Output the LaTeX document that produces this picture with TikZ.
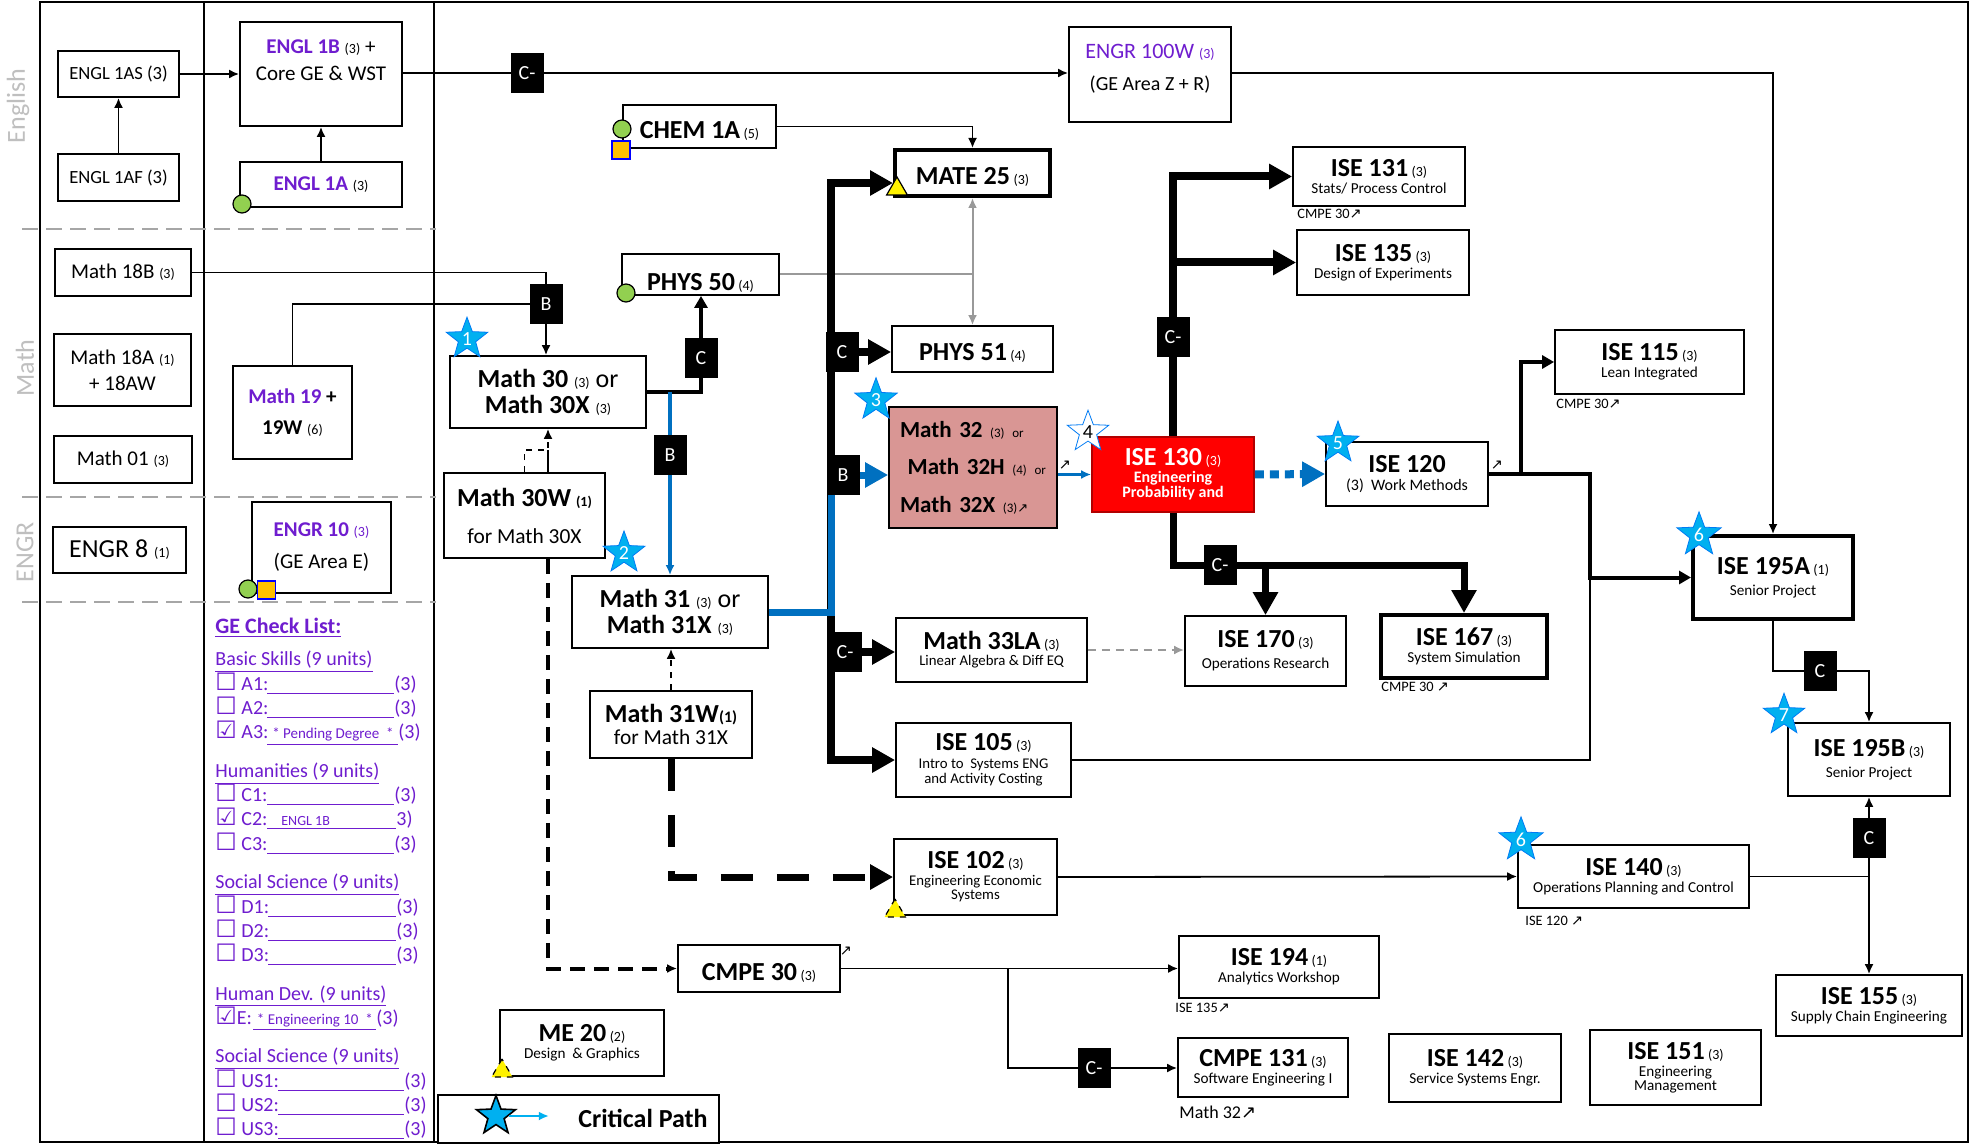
\documentclass[tikz,border=0pt]{standalone}
\usepackage{fontspec}
\setmainfont{Carlito}
\newfontfamily\symf{DejaVu Sans}
\usetikzlibrary{arrows.meta,positioning,shapes.geometric,calc}
\definecolor{gepurple}{HTML}{6F1DCF}
\definecolor{lanegray}{HTML}{A6A6A6}
\definecolor{labelgray}{HTML}{BFBFBF}
\definecolor{pathblue}{HTML}{0070C0}
\definecolor{starblue}{HTML}{00B0F0}
\definecolor{dotgreen}{HTML}{92D050}
\definecolor{sqorange}{HTML}{FFC000}
\definecolor{mathrose}{HTML}{D99694}
\definecolor{critred}{HTML}{FF0000}
\newcommand{\hrs}[1]{{\fontsize{7}{8}\selectfont\mdseries(#1)}}
\newcommand{\ttl}[1]{{\fontsize{13}{13}\selectfont\bfseries #1}}
\newcommand{\nearr}{{\symf ↗}}
\newcommand{\cbox}{{\symf\fontsize{12}{12}\selectfont ☐}}
\newcommand{\cchk}{{\symf\fontsize{12}{12}\selectfont ☑}}
\newcommand{\blankln}[1]{\rule[-1.8pt]{#1}{0.5pt}}

\begin{document}
\begin{tikzpicture}[x=0.5pt,y=-0.5pt,
    box/.style={draw,line width=0.9pt,fill=white,inner sep=0pt,align=center,
      font=\fontsize{7.6}{8.6}\selectfont},
    sz/.style 2 args={minimum width=#1*0.5pt,minimum height=#2*0.5pt},
    heavy/.style={line width=2pt},
    lowtext/.style={text height=14pt,text depth=2pt},
    gate/.style={fill=black,text=white,inner sep=0pt,minimum width=16.5pt,
      minimum height=20pt,font=\fontsize{10}{10}\selectfont},
    lane/.style={lanegray,line width=1.2pt,dash pattern=on 8pt off 4pt},
    con/.style={line width=0.9pt},
    arr/.style={-{Latex[length=5pt,width=4.5pt]}},
    bigarr/.style={-{Triangle[length=11.5pt,width=12pt]}},
    midarr/.style={-{Triangle[length=6pt,width=6.5pt]}},
    trunk/.style={line width=4pt},
    thk7/.style={line width=3.5pt},
    thk2/.style={line width=2pt},
    blu2/.style={pathblue,line width=1.6pt},
    blu7/.style={pathblue,line width=3.5pt},
    bludot/.style={pathblue,line width=4pt,dash pattern=on 4.5pt off 3pt},
    glin/.style={gray!80,line width=1pt},
    gdash/.style={gray!80,line width=1pt,dash pattern=on 4pt off 3pt},
    dash4/.style={line width=2pt,dash pattern=on 7.5pt off 4.5pt},
    dash7/.style={line width=3.5pt,dash pattern=on 16pt off 12pt},
    numstar/.style={star,star points=5,star point ratio=2.4,minimum size=20.5pt,
      inner sep=0pt,fill=starblue,draw=starblue!70!blue,line width=0.4pt,
      text=white,font=\fontsize{10}{10}\selectfont},
    gdot/.style={circle,fill=dotgreen,draw=black,line width=0.6pt,minimum size=9pt,inner sep=0pt},
    osq/.style={rectangle,fill=sqorange,draw=blue,line width=0.8pt,minimum size=9pt,inner sep=0pt},
    ytri/.style={regular polygon,regular polygon sides=3,fill=yellow,draw=black,
      line width=0.6pt,minimum size=12pt,inner sep=0pt},
    note/.style={inner sep=0pt,font=\fontsize{7.2}{8}\selectfont},
    lanelbl/.style={rotate=90,text=labelgray,font=\fontsize{13}{13}\selectfont}]

\path[fill=white,use as bounding box] (0,0) rectangle (1970,1144);

% frame and lanes
\draw[line width=1.2pt] (40,2) rectangle (1968,1142);
\draw[line width=1.2pt] (204,2) -- (204,1142);
\draw[line width=1.2pt] (434,2) -- (434,1142);
\draw[lane] (22,229) -- (436,229);
\draw[lane] (22,497) -- (436,497);
\draw[lane] (22,602) -- (436,602);
\node[lanelbl] (lblEng) at (18,106) {English};
\node[lanelbl] (lblMath) at (25,368) {Math};
\node[lanelbl] (lblEngr) at (25,552) {ENGR};

% courses
\node[box,sz={121}{46},font=\fontsize{9.3}{10}\selectfont] (engAS) at (118.5,74) {ENGL 1AS (3)};
\node[box,sz={121}{47},font=\fontsize{9.3}{10}\selectfont] (engAF) at (118.5,177.5) {ENGL 1AF (3)};
\node[box,sz={162}{104}] (engB) at (321,74) {};
\node[align=center,inner sep=0pt,font=\fontsize{10.5}{13.5}\selectfont] (engBtxt) at (321,60)
  {{\bfseries\color{gepurple}ENGL 1B} \hrs{3} +\\Core GE \& WST};
\node[box,sz={162}{45},font=\fontsize{10.5}{12}\selectfont] (engA) at (321,184.5)
  {{\bfseries\color{gepurple}ENGL 1A} \hrs{3}};
\node[box,sz={136}{47},font=\fontsize{10.5}{12}\selectfont] (m18B) at (123,272.5) {Math 18B \hrs{3}};
\node[box,sz={137}{72},font=\fontsize{10.5}{13}\selectfont] (m18A) at (122.5,370) {Math 18A \hrs{1}\\+ 18AW};
\node[box,sz={138}{47},font=\fontsize{10.5}{12}\selectfont] (m01) at (123,459.5) {Math 01 \hrs{3}};
\node[box,sz={133}{46},font=\fontsize{13}{14}\selectfont] (engr8) at (119.5,550) {ENGR 8 \hrs{1}};
\node[box,sz={119}{93},font=\fontsize{10.5}{15.5}\selectfont\bfseries] (m19) at (292.5,412.5)
  {{\color{gepurple}Math 19} +\\19W \hrs{6}};
\node[box,sz={139}{91},font=\fontsize{10.5}{16}\selectfont] (engr10) at (321.5,547.5)
  {{\color{gepurple}\bfseries ENGR 10 \hrs{3}}\\(GE Area E)};
\node[box,sz={162}{95}] (engr100) at (1150,74.5) {};
\node[align=center,inner sep=0pt,font=\fontsize{10}{16}\selectfont] (engr100txt) at (1150,69)
  {{\color{gepurple}\fontsize{11}{12}\selectfont ENGR 100W \hrs{3}}\\(GE Area Z + R)};
\node[box,lowtext,sz={153}{43}] (chem) at (699.5,126.5) {\ttl{CHEM 1A} \hrs{5}};
\node[box,lowtext,heavy,sz={155}{46}] (mate) at (972.5,173) {\ttl{MATE 25} \hrs{3}};
\node[box,sz={157}{41},text height=18pt,text depth=2pt] (phys50) at (700.5,274.5) {\ttl{PHYS 50} \hrs{4}};
\node[box,lowtext,sz={161}{46}] (phys51) at (972.5,349) {\ttl{PHYS 51} \hrs{4}};
\node[box,sz={196}{72},font=\fontsize{13}{13}\selectfont] (m30) at (548,392)
  {\ttl{Math 30} \hrs{3} or\\\ttl{Math 30X} \hrs{3}};
\node[box,sz={161}{85},font=\fontsize{10.7}{18.5}\selectfont] (m30W) at (524.5,515.5)
  {\ttl{Math 30W} {\fontsize{7}{8}\selectfont\bfseries(1)}\\for Math 30X};
\node[box,sz={196}{72},font=\fontsize{13}{13}\selectfont] (m31) at (670,612)
  {\ttl{Math 31} \hrs{3} or\\\ttl{Math 31X} \hrs{3}};
\node[box,sz={162}{67},font=\fontsize{10.7}{11}\selectfont] (m31W) at (671,724.5)
  {\ttl{Math 31W}{\fontsize{8}{8}\selectfont\bfseries(1)}\\for Math 31X};
\node[box,sz={168}{121},fill=mathrose,align=left,text width=73pt,
  font=\fontsize{11.5}{18.7}\selectfont\bfseries] (m32) at (973,467.5)
  {Math 32 {\fontsize{6.5}{7}\selectfont\mdseries(3) or}\\
   \ Math 32H {\fontsize{6.5}{7}\selectfont\mdseries(4) or}\\
   Math 32X {\fontsize{6.5}{7}\selectfont\mdseries(3)\nearr}};
\node[box,sz={191}{64},font=\fontsize{7.4}{8}\selectfont] (m33) at (991.5,650)
  {\ttl{Math 33LA} \hrs{3}\\Linear Algebra \& Diff EQ};
\node[box,sz={175}{74},font=\fontsize{7.4}{9}\selectfont] (ise105) at (983.5,760)
  {\ttl{ISE 105} \hrs{3}\\Intro to\ \ Systems ENG\\[-1.5pt]and Activity Costing};
\node[box,sz={163}{76},font=\fontsize{7.4}{8.2}\selectfont] (ise102) at (975.5,877)
  {\ttl{ISE 102} \hrs{3}\\Engineering Economic\\[-1pt]Systems};
\node[box,lowtext,sz={162}{47}] (cmpe30) at (759,968.5) {\ttl{CMPE 30} \hrs{3}};
\node[box,sz={164}{66}] (me20) at (582,1043) {\ttl{ME 20} \hrs{2}\\Design\ \ \& Graphics};
\node[box,sz={162}{75},fill=critred,draw=red!70!black,text=white,
  font=\fontsize{8}{8.4}\selectfont\bfseries] (ise130) at (1173,474.5)
  {\ttl{ISE 130} \hrs{3}\\Engineering\\[-1pt]Probability and};
\node[box,sz={162}{64},font=\fontsize{8}{8.6}\selectfont] (ise120) at (1407,474)
  {\ttl{ISE 120}\\(3)\ \ Work Methods};
\node[box,sz={172}{59}] (ise131) at (1379,176.5) {\ttl{ISE 131} \hrs{3}\\Stats/ Process Control};
\node[box,sz={172}{65}] (ise135) at (1383,262.5) {\ttl{ISE 135} \hrs{3}\\Design of Experiments};
\node[box,sz={161}{70}] (ise170) at (1265.5,651) {\ttl{ISE 170} \hrs{3}\\[2pt]Operations Research};
\node[box,heavy,sz={166}{63}] (ise167) at (1464,646.5) {\ttl{ISE 167} \hrs{3}\\System Simulation};
\node[box,sz={189}{64}] (ise115) at (1649.5,362) {\ttl{ISE 115} \hrs{3}\\Lean Integrated};
\node[box,heavy,sz={160}{83}] (ise195A) at (1773,577.5) {\ttl{ISE 195A} \hrs{1}\\[2pt]Senior Project};
\node[box,sz={162}{73}] (ise195B) at (1869,759.5) {\ttl{ISE 195B} \hrs{3}\\[2pt]Senior Project};
\node[box,sz={231}{63}] (ise140) at (1633.5,876.5) {\ttl{ISE 140} \hrs{3}\\Operations Planning and Control};
\node[box,sz={186}{61}] (ise155) at (1869,1005.5) {\ttl{ISE 155} \hrs{3}\\Supply Chain Engineering};
\node[box,sz={200}{62}] (ise194) at (1279,967) {\ttl{ISE 194} \hrs{1}\\Analytics Workshop};
\node[box,sz={170}{59}] (cmpe131) at (1263,1067.5) {\ttl{CMPE 131} \hrs{3}\\Software Engineering I};
\node[box,sz={172}{68}] (ise142) at (1475,1068) {\ttl{ISE 142} \hrs{3}\\Service Systems Engr.};
\node[box,sz={171}{75},font=\fontsize{7.6}{8.6}\selectfont] (ise151) at (1675.5,1067.5)
  {\ttl{ISE 151} \hrs{3}\\Engineering\\[-1.5pt]Management};

% gate and bend points
\coordinate (gC1) at (527,73);
\coordinate (gB1) at (546,304);
\coordinate (gC2) at (701,358);
\coordinate (gB2) at (670,455);
\coordinate (gC3) at (842,352);
\coordinate (gB3) at (843,475);
\coordinate (gC4) at (845,652);
\coordinate (gC5) at (1173,337);
\coordinate (gC6) at (1220,565);
\coordinate (gC7) at (1820,671);
\coordinate (gC8) at (1869,838);
\coordinate (gC9) at (1094,1068);
\coordinate (tTop) at (831,183);
\coordinate (tMid) at (831,612);
\coordinate (tBot) at (831,760);
\coordinate (j30) at (548,450);
\coordinate (j195) at (1590,577.5);
\coordinate (j115) at (1521,474);
\coordinate (j131) at (1008,968.5);

% connectors
\draw[con,arr] (engAF) -- (engAS);
\draw[con,arr] (engAS.east) -- (engAS.east -| engB.west);
\draw[con,arr] (engA) -- (engB);
\draw[con] (engB.east |- gC1) -- (gC1);
\draw[con,arr] (gC1) -- (gC1 -| engr100.west);
\draw[con,arr] (engr100.east |- gC1) -| (ise195A.north);
\draw[con,arr] (chem.east) -| (mate.north);
\draw[con] (m18B.east) -| (gB1);
\draw[con] (m19.north) |- (gB1);
\draw[con,arr] (gB1) -- (gB1 |- m30.north);
\draw[glin] (phys50.east) -- (phys50.east -| mate.south);
\draw[glin,{Latex[length=5pt,width=4.5pt]}-{Latex[length=5pt,width=4.5pt]}] (mate.south) -- (phys51.north);
\draw[thk2] (m30.east) -| (gC2);
\draw[thk2,midarr] (gC2) -- (gC2 |- phys50.south);
\draw[blu2] (m30.east -| gB2) -- (gB2);
\draw[blu2,arr] (gB2) -- (gB2 |- m31.north);
\draw[con,dashed,arr] (m30W.north) |- (j30) -- (m30.south);
\draw[con] (j30) -- (j30 |- m30W.north);
\draw[dash4,arr] (m30W.south -| j30) |- (cmpe30.west);
\draw[con,dashed,arr] (m31W.north) -- (m31W.north |- m31.south);
\draw[dash7,bigarr] (m31W.south) |- (ise102.west);
\draw[trunk,bigarr] (tMid) -- (tTop) -- (tTop -| mate.west);
\draw[trunk,bigarr] (tMid) -- (tBot) -- (tBot -| ise105.west);
\draw[trunk,bigarr] (gC3) -- (gC3 -| phys51.west);
\draw[trunk,bigarr] (gC4) -- (gC4 -| m33.west);
\draw[blu7] (m31.east) -- (tMid) -- (tMid |- gB3);
\draw[blu7,bigarr] (gB3) -- (gB3 -| m32.west);
\draw[blu2,arr] (ise130.west -| m32.east) -- (ise130.west);
\draw[bludot,bigarr] (ise130.east) -- (ise120.west);
\draw[trunk] (ise130.north) -- (gC5);
\draw[trunk,bigarr] (gC5) |- (ise131.west);
\draw[trunk,bigarr] (gC5 |- ise135.west) -- (ise135.west);
\draw[thk7,bigarr] (ise130.south) |- (gC6) -| (ise167.north);
\draw[thk7,bigarr] (gC6 -| ise170.north) -- (ise170.north);
\draw[gdash,arr] (m33.east) -- (m33.east -| ise170.west);
\draw[thk2,midarr] (ise120.east) -| (j195) -- (ise195A.west);
\draw[con,line width=1.6pt,midarr] (j115) |- (ise115.west);
\draw[con] (ise105.east) -| (j195);
\draw[con,arr] (ise195A.south) |- (gC7) -| (ise195B.north);
\draw[con,arr] (ise102.east) -- (ise140.west);
\draw[con] (ise140.east) -- (ise140.east -| ise195B.south);
\draw[con,{Latex[length=5pt,width=4.5pt]}-{Latex[length=5pt,width=4.5pt]}] (ise195B.south) -- (ise155.north);
\draw[con,arr] (cmpe30.east) -- (cmpe30.east -| ise194.west);
\draw[con,arr] (j131) |- (gC9) -- (gC9 -| cmpe131.west);

% grade gates
\node[gate] (gateC1) at (gC1) {C-};
\node[gate] (gateB1) at (gB1) {B};
\node[gate] (gateC2) at (gC2) {C};
\node[gate] (gateB2) at (gB2) {B};
\node[gate] (gateC3) at (gC3) {C};
\node[gate] (gateB3) at (gB3) {B};
\node[gate] (gateC4) at (gC4) {C-};
\node[gate] (gateC5) at (gC5) {C-};
\node[gate] (gateC6) at (gC6) {C-};
\node[gate] (gateC7) at (gC7) {C};
\node[gate] (gateC8) at (gC8) {C};
\node[gate] (gateC9) at (gC9) {C-};

% markers
\node[gdot] (dotEngA) at (242,204) {};
\node[gdot] (dotEngr10) at (248,589) {};
\node[osq] (sqEngr10) at (266.5,590) {};
\node[gdot] (dotChem) at (622,129) {};
\node[osq] (sqChem) at (621,150) {};
\node[gdot] (dotPhys) at (626,293) {};
\node[ytri] (triMate) at (897,189) {};
\node[ytri,dashed] (triIse102) at (895,911) {};
\node[ytri,dashed] (triMe20) at (502,1071) {};

% critical path stars
\node[numstar] (st1) at (467,339) {1};
\node[numstar] (st2) at (624,553) {2};
\node[numstar] (st3) at (876,400) {3};
\node[numstar,fill=white,text=black] (st4) at (1088,432) {4};
\node[numstar] (st5) at (1338,443) {5};
\node[numstar] (st6a) at (1699,535) {6};
\node[numstar] (st6b) at (1521,840) {6};
\node[numstar] (st7) at (1784,715) {7};

% prerequisite notes
\node[note,anchor=west] (n131) at (1297,214) {CMPE 30\nearr};
\node[note,anchor=west] (n115) at (1556,404) {CMPE 30\nearr};
\node[note,anchor=west] (n167) at (1381,687) {CMPE 30 \nearr};
\node[note,anchor=west] (n140) at (1525,921) {ISE 120 \nearr};
\node[note,anchor=west] (n194) at (1175,1008) {ISE 135\nearr};
\node[note,anchor=west,font=\fontsize{9}{10}\selectfont] (ncmpe131) at (1179,1112) {Math 32\nearr};
\node[note] (ncmpe30) at (846,951) {\nearr};
\node[note] (nm32) at (1065,465) {\nearr};
\node[note] (nise120) at (1497,465) {\nearr};

% legend
\node[box,sz={281}{48}] (legend) at (578.5,1119) {};
\node[numstar,draw=black,line width=0.8pt] (lstar) at (496,1116) {};
\draw[starblue,line width=0.9pt,arr] (lstar.east) -- ++(40,0);
\node[font=\fontsize{13}{13}\selectfont\bfseries] (lgtxt) at (643,1118) {Critical Path};

% GE check list
\node[anchor=north west,inner sep=0pt,align=left,text=gepurple,
  font=\fontsize{10}{12.15}\selectfont] (geList) at (215,618) {%
  {\fontsize{11}{11}\selectfont\bfseries\underline{GE Check List:}}\\[3.9pt]
  \underline{Basic Skills (9 units)}\\
  \makebox[26pt][l]{\cbox\ A1:}\blankln{63.5pt}(3)\\
  \makebox[26pt][l]{\cbox\ A2:}\blankln{63.5pt}(3)\\
  \makebox[26pt][l]{\cchk\ A3:}\underline{\makebox[65.5pt][c]{\fontsize{7.5}{8}\selectfont * Pending Degree\ \ *}}(3)\\[7.1pt]
  \underline{Humanities (9 units)}\\
  \makebox[26pt][l]{\cbox\ C1:}\blankln{63.5pt}(3)\\
  \makebox[26pt][l]{\cchk\ C2:}\underline{\makebox[64.5pt][l]{\hspace{7pt}\fontsize{7}{8}\selectfont ENGL 1B}}3)\\
  \makebox[26pt][l]{\cbox\ C3:}\blankln{63.5pt}(3)\\[7.1pt]
  \underline{Social Science (9 units)}\\
  \makebox[26.5pt][l]{\cbox\ D1:}\blankln{64pt}(3)\\
  \makebox[26.5pt][l]{\cbox\ D2:}\blankln{64pt}(3)\\
  \makebox[26.5pt][l]{\cbox\ D3:}\blankln{64pt}(3)\\[7.1pt]
  \underline{Human Dev. (9 units)}\\
  \makebox[19pt][l]{\cchk E:}\underline{\makebox[61.5pt][c]{\fontsize{7.5}{8}\selectfont * Engineering 10\ \ *}}(3)\\[7.1pt]
  \underline{Social Science (9 units)}\\
  \makebox[31.5pt][l]{\cbox\ US1:}\blankln{63pt}(3)\\
  \makebox[31.5pt][l]{\cbox\ US2:}\blankln{63pt}(3)\\
  \makebox[31.5pt][l]{\cbox\ US3:}\blankln{63pt}(3)};
\end{tikzpicture}
\end{document}
